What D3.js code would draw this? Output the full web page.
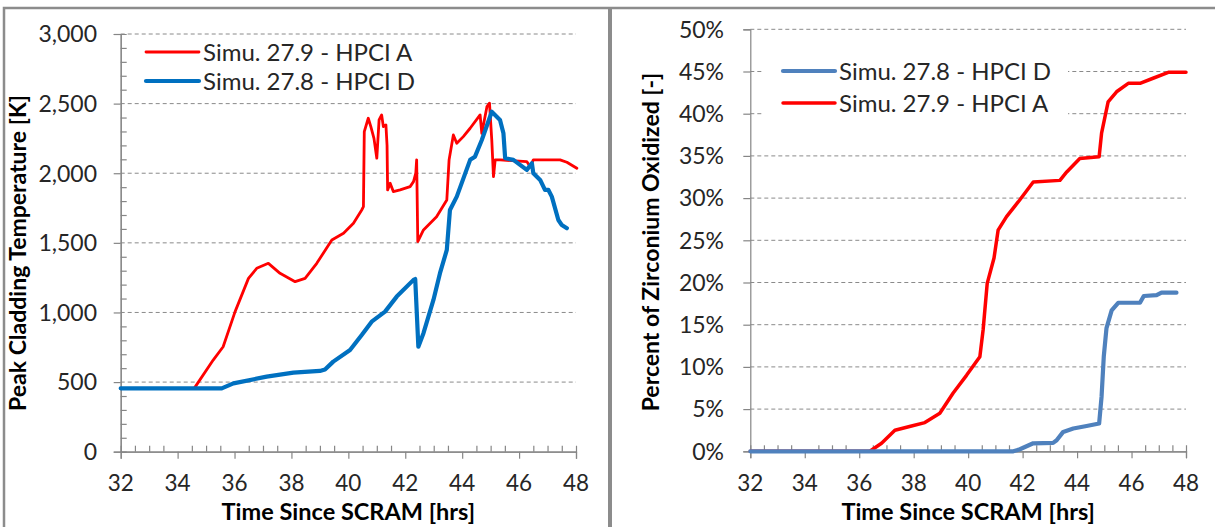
<!DOCTYPE html>
<html><head><meta charset="utf-8">
<script src="https://cdn.jsdelivr.net/npm/d3@7"></script>
<style>
html,body{margin:0;padding:0;background:#fff;}
svg{display:block;font-family:Lato,"Open Sans",sans-serif;}
</style></head><body>
<svg id="c" width="1215" height="527"></svg>
<script>
// ---------- Data ----------
// Left panel: Peak cladding temperature [K] vs time since SCRAM [hrs]
const tempRedT = [34.6,35.25,35.6,36.02,36.49,36.78,37.19,37.6,38.13,38.48,38.89,39.42,39.83,40.18,40.47,40.53,40.56,40.7,40.79,40.9,41.0,41.08,41.17,41.23,41.32,41.36,41.38,41.47,41.58,41.82,42.17,42.29,42.37,42.4,42.44,42.64,43.1,43.46,43.54,43.69,43.81,44.04,44.28,44.63,44.69,44.87,44.96,45.04,45.1,45.16,45.33,46.27,46.39,46.5,47.44,47.68,48.03];
const tempRedV = [460,658,754,1006,1245,1317,1353,1281,1221,1245,1353,1521,1569,1641,1736,1760,2299,2395,2335,2250,2108,2383,2419,2335,2347,2200,1880,1928,1868,1880,1904,1940,2000,2096,1509,1593,1688,1808,2096,2275,2215,2263,2323,2419,2287,2478,2503,2239,1976,2096,2096,2084,2047,2096,2096,2079,2036];
const tempBlueT = [32,35.55,35.96,37.13,38.07,39.0,39.18,39.47,40.06,40.47,40.82,41.29,41.7,42.29,42.35,42.46,42.64,42.99,43.22,43.46,43.57,43.81,44.28,44.45,44.69,45.04,45.33,45.45,45.51,45.8,46.27,46.45,46.5,46.74,46.91,47.03,47.15,47.38,47.5,47.68];
const tempBlueV = [455,455,491,539,568,580,590,647,731,838,934,1006,1114,1234,1240,754,851,1090,1282,1449,1736,1832,2096,2119,2239,2442,2383,2287,2108,2096,2024,2072,2000,1952,1880,1880,1832,1664,1628,1605];
// Right panel: percent of zirconium oxidized [%]
const zrRedT = [32,36.39,36.82,37.31,37.92,38.41,38.96,39.45,39.94,40.43,40.55,40.7,40.95,41.1,41.41,41.9,42.39,43.37,43.62,44.1,44.81,44.9,45.14,45.45,45.88,46.31,46.79,47.35,48.0];
const zrRedV = [0,0,0.95,2.5,3.0,3.4,4.5,6.9,9.0,11.2,14.4,19.9,22.9,26.2,27.8,29.8,31.9,32.1,33.1,34.7,34.9,37.7,41.4,42.6,43.6,43.6,44.2,44.9,44.9];
const zrBlueT = [32,41.66,41.9,42.39,43.12,43.25,43.49,43.86,44.35,44.81,44.9,44.98,45.08,45.27,45.51,46.31,46.45,46.92,47.1,47.65];
const zrBlueV = [0,0,0.24,0.95,1.0,1.3,2.3,2.7,3.0,3.3,6.5,11.2,14.6,16.7,17.6,17.6,18.4,18.5,18.8,18.8];

const xTicks = [32,34,36,38,40,42,44,46,48];
const tempTicks = [0,500,1000,1500,2000,2500,3000];
const zrTicks = [0,5,10,15,20,25,30,35,40,45,50];

const leftLegend = ["Simu. 27.9 - HPCI A","Simu. 27.8 - HPCI D"];
const rightLegend = ["Simu. 27.8 - HPCI D","Simu. 27.9 - HPCI A"];
const xTitle = "Time Since SCRAM [hrs]";
const leftYTitle = "Peak Cladding Temperature [K]";
const rightYTitle = "Percent of Zirconium Oxidized [-]";

// ---------- Drawing ----------
const svg = d3.select("#c");
const axisCol = "#868686", gridCol = "#8a8a8a", txtCol = "#262626";
const FS_TICK = 23, FS_XTICK = 22.5, FS_LEG = 24, FS_XT = 23.5, FS_YT = 23;

// frames
svg.append("rect").attr("x",4).attr("y",8).attr("width",1220).attr("height",540)
  .attr("fill","none").attr("stroke","#8c8c8c").attr("stroke-width",2.5);
svg.append("line").attr("x1",610).attr("x2",610).attr("y1",8).attr("y2",527)
  .attr("stroke","#8c8c8c").attr("stroke-width",4);

function panel(opt){
  const x = d3.scaleLinear().domain([32,48]).range(opt.xr);
  const y = d3.scaleLinear().domain(opt.yd).range(opt.yr);
  const g = svg.append("g");
  // grid
  g.selectAll(".grid").data(opt.yTicks.filter(v=>v!==opt.yd[0])).join("line")
    .attr("x1",x(32)).attr("x2",x(48)).attr("y1",d=>y(d)).attr("y2",d=>y(d))
    .attr("stroke",gridCol).attr("stroke-width",1).attr("stroke-dasharray","4,3");
  // legend background
  if(opt.legBox){
    g.append("rect").attr("x",opt.legBox[0]).attr("y",opt.legBox[1]).attr("width",opt.legBox[2]).attr("height",opt.legBox[3]).attr("fill","#fff");
  }
  // axes
  g.append("g").attr("transform",`translate(0,${y(opt.yd[0])})`)
    .call(d3.axisBottom(x).tickValues(xTicks).tickSize(7).tickFormat(""));
  g.append("g").attr("transform",`translate(0,${y(opt.yd[0])})`)
    .call(d3.axisTop(x).tickValues(d3.range(32,48.01,0.5).filter(v=>v%2!==0)).tickSize(6).tickFormat(""));
  g.append("g").attr("transform",`translate(${x(32)},0)`)
    .call(d3.axisLeft(y).tickValues(opt.yTicks).tickSize(7).tickFormat(""));
  if(opt.yMinor){
    g.append("g").attr("transform",`translate(${x(32)},0)`)
      .call(d3.axisRight(y).tickValues(opt.yMinor).tickSize(6).tickFormat(""));
  }
  g.selectAll(".domain").attr("stroke",axisCol).attr("stroke-width",1.2);
  g.selectAll(".tick line").attr("stroke",axisCol).attr("stroke-width",1.2);
  g.selectAll(".xl").data(xTicks).join("text").attr("class","xl")
    .attr("x",d=>x(d)).attr("y",491).attr("text-anchor","middle")
    .attr("font-size",FS_XTICK).attr("fill",txtCol).text(d=>d);
  g.selectAll(".yl").data(opt.yTicks).join("text").attr("class","yl")
    .attr("x",opt.ylx).attr("y",d=>y(d)).attr("dy","0.36em").attr("text-anchor","end")
    .attr("font-size",FS_TICK).attr("fill",txtCol).text(opt.yFmt);
  g.append("text").attr("x",(opt.xr[0]+opt.xr[1])/2).attr("y",520).attr("text-anchor","middle")
    .attr("font-size",FS_XT).attr("font-weight","bold").attr("fill","#000").text(xTitle);
  g.append("text").attr("transform",`translate(${opt.ytx},${opt.yty}) rotate(-90)`)
    .attr("text-anchor","middle").attr("font-size",FS_YT).attr("font-weight","bold").attr("fill","#000").text(opt.yTitle);
  // lines
  const line = d3.line().x(d=>x(d[0])).y(d=>y(d[1]));
  opt.series.forEach(s=>{
    g.append("path").datum(d3.zip(s.t,s.v)).attr("d",line).attr("fill","none")
      .attr("stroke",s.c).attr("stroke-width",s.w).attr("stroke-linejoin","round").attr("stroke-linecap","round");
  });
  // legend
  opt.legend.forEach((l,i)=>{
    const ly = opt.legY[i];
    g.append("line").attr("x1",opt.legX[0]).attr("x2",opt.legX[1]).attr("y1",ly).attr("y2",ly)
      .attr("stroke",l.c).attr("stroke-width",l.w).attr("stroke-linecap","round");
    g.append("text").attr("x",opt.legX[1]+4).attr("y",ly).attr("dy","0.36em")
      .attr("font-size",FS_LEG).attr("fill",txtCol).text(l.name);
  });
}

panel({
  xr:[120.7,576], yd:[0,3000], yr:[451.7,34], yTicks:tempTicks,
  yMinor:d3.range(0,3001,100).filter(v=>v%500!==0),
  ylx:97, yFmt:d3.format(","), ytx:26, yty:253, yTitle:leftYTitle,
  series:[{t:tempRedT,v:tempRedV,c:"#ff0000",w:2.8},{t:tempBlueT,v:tempBlueV,c:"#0070c0",w:4.2}],
  legend:[{name:leftLegend[0],c:"#ff0000",w:2.8},{name:leftLegend[1],c:"#0070c0",w:4.2}],
  legY:[52,81], legX:[146,199]
});
panel({
  xr:[750.3,1186], yd:[0,50], yr:[451.3,29.3], yTicks:zrTicks,
  ylx:724, yFmt:d=>d+"%", ytx:659, yty:242, yTitle:rightYTitle,
  legBox:[762,50,306,70],
  series:[{t:zrRedT,v:zrRedV,c:"#ff0000",w:3.5},{t:zrBlueT,v:zrBlueV,c:"#4f81bd",w:4.2}],
  legend:[{name:rightLegend[0],c:"#4f81bd",w:4.2},{name:rightLegend[1],c:"#ff0000",w:3.5}],
  legY:[71,103], legX:[783,835]
});
</script>
</body></html>
